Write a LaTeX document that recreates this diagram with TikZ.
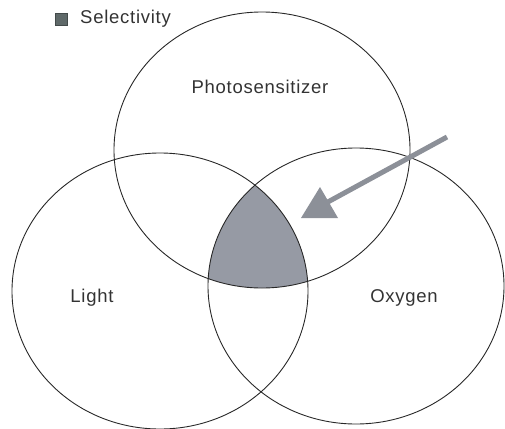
\documentclass[tikz,border=0pt]{standalone}
\usepackage{fontspec}
\newfontfamily\labfont[LetterSpace=4]{Liberation Sans}
\definecolor{selgray}{RGB}{150,154,164}
\definecolor{arrowgray}{RGB}{140,144,152}
\definecolor{legendgray}{RGB}{95,105,105}
\definecolor{linecol}{RGB}{40,40,40}
\begin{document}
\begin{tikzpicture}[x=1pt,y=-1pt,
  ring/.style={draw=linecol,line width=0.9pt},
  lab/.style={font=\labfont\fontsize{18.5}{22}\selectfont,text=black!80,inner sep=0pt}]
\useasboundingbox (0,0) rectangle (505,428);
% shaded intersection
\begin{scope}
  \clip (262,150) ellipse [x radius=148, y radius=138];
  \clip (160,291) ellipse [x radius=148, y radius=138];
  \fill[fill=selgray] (356,286) ellipse [x radius=148, y radius=138];
\end{scope}
% circles
\draw[ring] (262,150) ellipse [x radius=148, y radius=138];
\draw[ring] (160,291) ellipse [x radius=148, y radius=138];
\draw[ring] (356,286) ellipse [x radius=148, y radius=138];
% labels
\node[lab] (photo) at (260,87) {Photosensitizer};
\node[lab] (light) at (92,298) {Light};
\node[lab] (oxy) at (404,298) {Oxygen};
% legend
\node[draw=legendgray!70!black,fill=legendgray,minimum size=12pt,inner sep=0pt,line width=0.6pt] (key) at (61.5,19.5) {};
\node[lab,anchor=west] (keytext) at (80,19) {Selectivity};
% arrow
\coordinate (tail) at (447,137);
\coordinate (head) at (326,203);
\draw[arrowgray,line width=5pt] (tail) -- (head);
\fill[fill=arrowgray] (320,187) -- (338,218) -- (301,218) -- cycle;
\end{tikzpicture}
\end{document}
